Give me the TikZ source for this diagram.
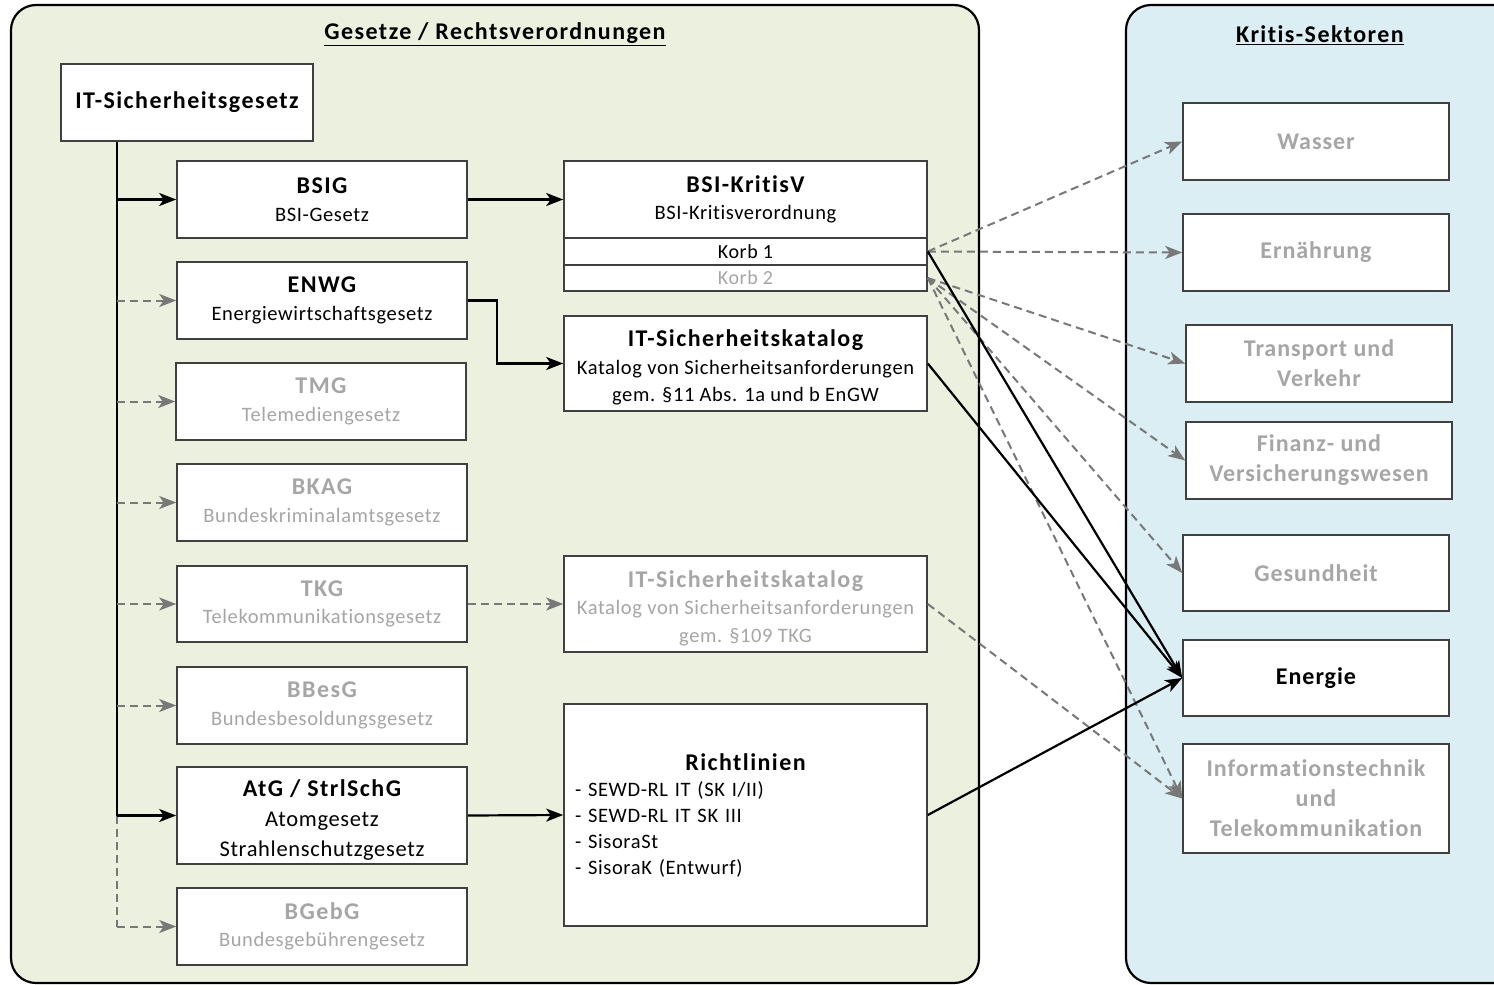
\documentclass[tikz,border=0pt]{standalone}
\usepackage{fontspec}
\setmainfont{Carlito}[Ligatures={NoCommon}]
\usetikzlibrary{arrows.meta,calc}
\definecolor{greenbg}{RGB}{235,241,222}
\definecolor{bluebg}{RGB}{218,238,243}
\definecolor{graytxt}{RGB}{166,166,166}
\definecolor{grayline}{RGB}{120,120,120}
\definecolor{boxborder}{RGB}{64,64,64}
\newcommand{\hdfont}{\fontsize{24}{30}\selectfont\bfseries\addfontfeatures{LetterSpace=6}}
\newcommand{\secfont}{\fontsize{24}{30}\selectfont\bfseries\addfontfeatures{LetterSpace=4}}
\newcommand{\rgfont}{\fontsize{20.5}{27.5}\selectfont\addfontfeatures{LetterSpace=3}}
\newcommand{\bgfont}{\fontsize{22.5}{30}\selectfont\addfontfeatures{LetterSpace=3}}
\newcommand{\topstrut}{\rule{0pt}{25pt}}
\tikzset{
  panel/.style={draw=black, line width=2.2pt, rounded corners=25pt},
  box/.style={draw=boxborder, line width=1.6pt, fill=white, align=center, inner sep=0pt, font=\rgfont},
  lawbox/.style={box, minimum width=290pt, minimum height=77pt},
  midbox/.style={box, minimum width=363pt},
  secbox/.style={box, minimum width=266pt, minimum height=77pt, font=\secfont},
  grey/.style={text=graytxt},
  paneltitle/.style={font=\hdfont, inner sep=0pt},
  solidarrow/.style={draw=black, line width=2.2pt, -{Stealth[length=17pt,width=13pt,inset=4.5pt]}},
  solidline/.style={draw=black, line width=2.2pt},
  dasharrow/.style={draw=grayline, line width=2pt, dash pattern=on 8pt off 5pt, -{Stealth[length=17pt,width=13pt,inset=4.5pt]}},
  dashline/.style={draw=grayline, line width=2pt, dash pattern=on 8pt off 5pt},
}
\begin{document}
\begin{tikzpicture}[x=1pt,y=-1pt]
\useasboundingbox (0,0) rectangle (1494,985);
% panels
\draw[panel, fill=greenbg] (11,5) rectangle (979,983);
\draw[panel, fill=bluebg] (1126,5) rectangle (1530,983);
\node[paneltitle] (tleft) at (495,34) {\underline{Gesetze / Rechtsverordnungen}};
\node[paneltitle] (tright) at (1320,35) {\underline{Kritis-Sektoren}};

% left column
\node[box, minimum width=252pt, minimum height=77pt, font=\hdfont] (its) at (187,102.5) {IT-Sicherheitsgesetz};
\node[lawbox] (bsig) at (322,199.5) {{\hdfont BSIG}\\BSI-Gesetz};
\node[lawbox] (enwg) at (322,300.5) {{\hdfont ENWG}\\Energiewirtschaftsgesetz};
\node[lawbox, grey] (tmg) at (321,401.5) {{\hdfont TMG}\\Telemediengesetz};
\node[lawbox, grey] (bkag) at (322,502.5) {{\hdfont BKAG}\\Bundeskriminalamtsgesetz};
\node[lawbox, grey, minimum height=76pt] (tkg) at (322,604) {{\hdfont TKG}\\Telekommunikationsgesetz};
\node[lawbox, grey] (bbesg) at (322,705.5) {{\hdfont BBesG}\\Bundesbesoldungsgesetz};
\node[lawbox, minimum height=97pt, font=\bgfont] (atg) at (322,815.5) {{\hdfont\topstrut AtG / StrlSchG}\\Atomgesetz\\Strahlenschutzgesetz};
\node[lawbox, grey] (bgebg) at (322,926.5) {{\hdfont BGebG}\\Bundesgebührengesetz};

% middle column
\node[midbox, minimum height=77pt] (kritisv) at (745.5,199.5) {{\hdfont BSI-KritisV}\\BSI-Kritisverordnung};
\node[midbox, minimum height=27pt, font=\fontsize{20}{24}\selectfont\addfontfeatures{LetterSpace=3}] (korb1) at (745.5,251.5) {Korb 1};
\node[midbox, minimum height=26pt, font=\fontsize{20}{24}\selectfont\addfontfeatures{LetterSpace=3}, grey] (korb2) at (745.5,278) {Korb 2};
\node[midbox, minimum height=95pt] (katalog) at (745.5,363.5) {{\hdfont\topstrut IT-Sicherheitskatalog}\\Katalog von Sicherheitsanforderungen\\gem. §11 Abs. 1a und b EnGW};
\node[midbox, minimum height=96pt, grey] (katalog2) at (745.5,604) {{\hdfont\topstrut IT-Sicherheitskatalog}\\Katalog von Sicherheitsanforderungen\\gem. §109 TKG};
\node[midbox, minimum height=222pt, align=left, text width=341pt, font=\fontsize{20.5}{26}\selectfont\addfontfeatures{LetterSpace=3}] (richt) at (745.5,815) {\makebox[341pt]{\hdfont Richtlinien}\\- SEWD-RL IT (SK I/II)\\- SEWD-RL IT SK III\\- SisoraSt\\- SisoraK (Entwurf)};

% right column
\node[secbox, grey] (wasser) at (1316,141.5) {Wasser};
\node[secbox, grey] (ern) at (1316,252.5) {Ernährung};
\node[secbox, grey] (trans) at (1319,363.5) {Transport und\\Verkehr};
\node[secbox, grey] (finanz) at (1319,460.5) {Finanz- und\\Versicherungswesen};
\node[secbox, grey, minimum height=76pt] (gesund) at (1316,573) {Gesundheit};
\node[secbox, minimum height=76pt] (energie) at (1316,678) {Energie};
\node[secbox, grey, minimum height=109pt] (itk) at (1316,798.5) {Informationstechnik\\und\\Telekommunikation};

% trunk
\coordinate (tr) at ($(its.south west)+(57,0)$);
\draw[solidline] (tr) -- (tr |- atg.west);
\draw[dashline] (tr |- atg.west) -- (tr |- bgebg.west);
\draw[solidarrow] (tr |- bsig.west) -- (bsig.west);
\draw[dasharrow] (tr |- enwg.west) -- (enwg.west);
\draw[dasharrow] (tr |- tmg.west) -- (tmg.west);
\draw[dasharrow] (tr |- bkag.west) -- (bkag.west);
\draw[dasharrow] (tr |- tkg.west) -- (tkg.west);
\draw[dasharrow] (tr |- bbesg.west) -- (bbesg.west);
\draw[solidarrow] (tr |- atg.west) -- (atg.west);
\draw[dasharrow] (tr |- bgebg.west) -- (bgebg.west);

% left to middle
\draw[solidarrow] (bsig.east) -- (kritisv.west);
\draw[solidarrow] (enwg.east) -- ++(29,0) |- (katalog.west);
\draw[dasharrow] (tkg.east) -- (katalog2.west);
\draw[solidarrow] (atg.east) -- (richt.west);

% middle to right
\draw[dasharrow] (korb1.east) -- (wasser.west);
\draw[dasharrow] (korb1.east) -- (ern.west);
\draw[dasharrow] (korb2.east) -- (trans.west);
\draw[dasharrow] (korb2.east) -- (finanz.west);
\draw[dasharrow] (korb2.east) -- (gesund.west);
\draw[dasharrow] (korb2.east) -- (itk.west);
\draw[dasharrow] (katalog2.east) -- (itk.west);
\draw[solidarrow] (korb1.east) -- (energie.west);
\draw[solidarrow] (katalog.east) -- (energie.west);
\draw[solidarrow] (richt.east) -- (energie.west);
\end{tikzpicture}
\end{document}
